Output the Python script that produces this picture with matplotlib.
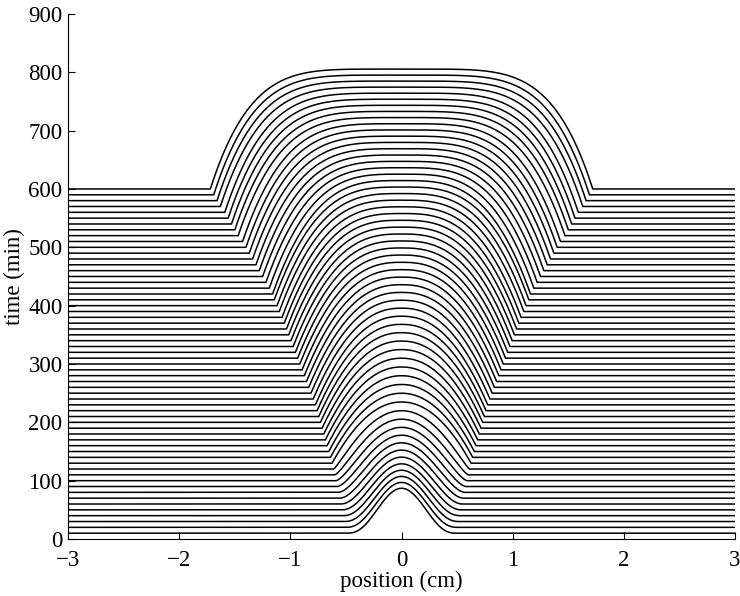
import numpy as np
import matplotlib
matplotlib.use("Agg")
import matplotlib.pyplot as plt

# --- Data ---
# baseline time of each profile (min)
times = list(range(10, 601, 10))

# half-width of the profile (front position, cm) for each curve
fronts = [0.50, 0.51, 0.52, 0.53, 0.54, 0.55, 0.56, 0.57, 0.58, 0.59,
          0.60, 0.61, 0.625, 0.64, 0.655, 0.67, 0.685, 0.70, 0.715, 0.73,
          0.745, 0.76, 0.775, 0.795, 0.815, 0.835, 0.855, 0.875, 0.895, 0.915,
          0.935, 0.955, 0.975, 0.995, 1.015, 1.035, 1.055, 1.075, 1.10, 1.12,
          1.145, 1.16, 1.19, 1.22, 1.25, 1.28, 1.31, 1.34, 1.37, 1.40,
          1.43, 1.47, 1.50, 1.53, 1.56, 1.59, 1.63, 1.66, 1.69, 1.72]

# rise of each profile's height at x = 0 from one curve to the next
amp_steps = [0, 0.3, 0.6, 1, 1.5, 2, 2.5, 3, 3.5, 4,
             4.5, 5, 5, 5, 5, 5, 5, 4.8, 4.6, 4.4,
             4.2, 4, 3.8, 3.6, 3.4, 3.2, 3, 2.8, 2.6, 2.4,
             2.2, 2, 1.9, 1.8, 1.7, 1.6, 1.5, 1.4, 1.3, 1.2,
             1.1, 1, 1, 0.9, 0.9, 0.8, 0.8, 0.7, 0.7, 0.6,
             0.6, 0.5, 0.5, 0.4, 0.4, 0.4, 0.3, 0.3, 0.3]
first_amp = 77
amplitudes = list(first_amp + np.concatenate([[0], np.cumsum(amp_steps)]))

x_ticks = [-3, -2, -1, 0, 1, 2, 3]
y_ticks = [0, 100, 200, 300, 400, 500, 600, 700, 800, 900]

# --- Plot ---
plt.rcParams['font.family'] = ['Liberation Serif', 'DejaVu Serif']

fig = plt.figure(figsize=(7.4, 5.96), dpi=100)
ax = fig.add_axes([0.092, 0.0956, 0.9013, 0.881])

x = np.linspace(-3, 3, 1201)
n_curves = len(times)
for i, (t, F, A) in enumerate(zip(times, fronts, amplitudes)):
    frac = i / (n_curves - 1)
    # profile goes from a smooth bump to a flat-topped plateau
    n = 2 + 3 * frac ** 2.5
    p = max(1.0, 3 - 2 * i / 12)
    u = np.clip(np.abs(x) / F, 0, 1)
    shape = (1 - u ** n) ** p
    ax.plot(x, t + A * shape, color='black', lw=1.1)

ax.set_xlim(-3, 3)
ax.set_ylim(0, 900)
ax.set_xticks(x_ticks)
ax.set_yticks(y_ticks)
ax.spines['top'].set_visible(False)
ax.spines['right'].set_visible(False)
ax.tick_params(direction='in', length=5, width=0.8, labelsize=16.5)
ax.tick_params(axis='x', pad=8)
ax.tick_params(axis='y', pad=4)
ax.set_xlabel('position (cm)', fontsize=16.5, labelpad=0)
ax.set_ylabel('time (min)', fontsize=16.5, labelpad=2)

fig.savefig('out.png', dpi=100)
